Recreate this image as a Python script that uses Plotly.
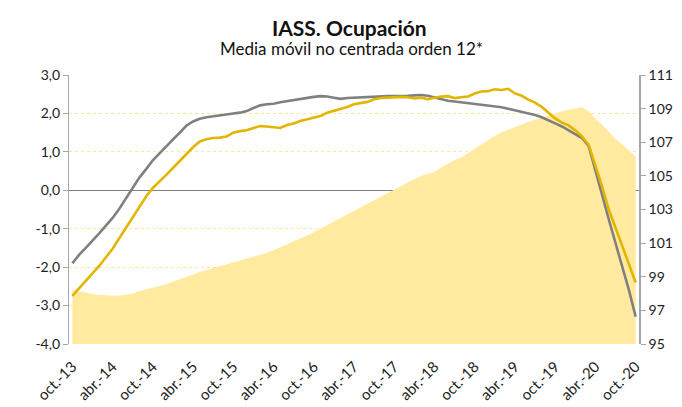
import plotly.graph_objects as go

# Monthly categories oct-13 .. oct-20 (85 points); labels every 6 months
tick_labels = ["oct.-13", "abr.-14", "oct.-14", "abr.-15", "oct.-15", "abr.-16", "oct.-16",
               "abr.-17", "oct.-17", "abr.-18", "oct.-18", "abr.-19", "oct.-19", "abr.-20", "oct.-20"]

# Gray line (left axis)
serie_gris = [-1.90, -1.68, -1.50, -1.32, -1.12, -0.92, -0.72, -0.48, -0.22, 0.06,
              0.33, 0.55, 0.78, 0.96, 1.14, 1.32, 1.48, 1.68, 1.79, 1.86,
              1.90, 1.93, 1.95, 1.97, 2.00, 2.02, 2.06, 2.14, 2.21, 2.24,
              2.25, 2.29, 2.32, 2.35, 2.38, 2.40, 2.43, 2.45, 2.44, 2.41,
              2.38, 2.40, 2.41, 2.42, 2.43, 2.44, 2.44, 2.45, 2.45, 2.45,
              2.46, 2.47, 2.48, 2.46, 2.42, 2.37, 2.33, 2.31, 2.29, 2.27,
              2.25, 2.23, 2.21, 2.19, 2.16, 2.12, 2.08, 2.05, 2.01, 1.96,
              1.90, 1.83, 1.74, 1.66, 1.56, 1.47, 1.36, 1.15, 0.55, -0.12,
              -0.76, -1.38, -1.95, -2.60, -3.29]

# Gold line (left axis)
serie_oro = [-2.75, -2.55, -2.34, -2.16, -1.97, -1.75, -1.52, -1.25, -0.98, -0.72,
             -0.45, -0.16, 0.06, 0.22, 0.40, 0.58, 0.76, 0.95, 1.12, 1.27,
             1.33, 1.36, 1.37, 1.40, 1.50, 1.54, 1.56, 1.62, 1.67, 1.66,
             1.64, 1.62, 1.70, 1.74, 1.80, 1.85, 1.88, 1.93, 2.02, 2.07,
             2.10, 2.17, 2.24, 2.28, 2.30, 2.37, 2.40, 2.41, 2.42, 2.43,
             2.42, 2.39, 2.41, 2.37, 2.41, 2.44, 2.45, 2.40, 2.42, 2.44,
             2.52, 2.57, 2.58, 2.63, 2.61, 2.64, 2.52, 2.46, 2.36, 2.28,
             2.17, 2.03, 1.87, 1.76, 1.69, 1.56, 1.40, 1.18, 0.66, 0.10,
             -0.50, -0.98, -1.45, -1.92, -2.40]

# Area (right axis)
serie_area = [98.21, 98.12, 98.04, 97.98, 97.93, 97.88, 97.87, 97.88, 97.92, 98.00,
              98.15, 98.25, 98.35, 98.45, 98.55, 98.70, 98.85, 99.00, 99.15, 99.28,
              99.40, 99.52, 99.64, 99.76, 99.87, 99.98, 100.08, 100.19, 100.30, 100.43,
              100.57, 100.74, 100.92, 101.10, 101.28, 101.46, 101.64, 101.84, 102.06, 102.28,
              102.50, 102.71, 102.92, 103.13, 103.34, 103.56, 103.78, 104.00, 104.21, 104.41,
              104.62, 104.82, 105.00, 105.12, 105.25, 105.50, 105.75, 105.95, 106.10, 106.35,
              106.62, 106.90, 107.15, 107.38, 107.58, 107.75, 107.92, 108.06, 108.20, 108.33,
              108.47, 108.60, 108.72, 108.85, 108.94, 109.02, 109.08, 108.85, 108.40, 108.05,
              107.60, 107.20, 106.88, 106.50, 106.14]

left_ticks = [3, 2, 1, 0, -1, -2, -3, -4]
left_ticktext = ["3,0", "2,0", "1,0", "0,0", "-1,0", "-2,0", "-3,0", "-4,0"]
right_ticks = [95, 97, 99, 101, 103, 105, 107, 109, 111]

idx = list(range(len(serie_gris)))
tick_pos = list(range(0, len(serie_gris), 6))

FONT = "Lato"
# the page body has an 8px default margin, so the figure is drawn 8px in from the top-left
OFF = 8
W, H = 682 - OFF, 407 - OFF
L, R, T, B = 61, 43, 67, 63

fig = go.Figure()
fig.add_trace(go.Scatter(x=idx, y=serie_area, yaxis="y", mode="lines",
                         line=dict(width=0, color="#FFEAA0"), fill="tozeroy",
                         fillcolor="#FFEAA0", showlegend=False, hoverinfo="skip"))
fig.add_trace(go.Scatter(x=idx, y=serie_gris, yaxis="y2", mode="lines",
                         line=dict(width=2.6, color="#808080"), showlegend=False))
fig.add_trace(go.Scatter(x=idx, y=serie_oro, yaxis="y2", mode="lines",
                         line=dict(width=2.6, color="#E2B600"), showlegend=False))

fig.update_layout(
    width=W, height=H,
    margin=dict(l=L, r=R, t=T, b=B, autoexpand=False),
    paper_bgcolor="white", plot_bgcolor="white",
    font=dict(family=FONT, size=13, color="#222222"),
    xaxis=dict(range=[-0.5, len(serie_gris) - 0.5], tickvals=tick_pos, ticktext=tick_labels,
               tickangle=-45, showgrid=False, zeroline=False, showline=False, ticks="",
               tickfont=dict(size=15), automargin=False, ticklabelstandoff=10),
    yaxis=dict(range=[95, 111], side="right", tickvals=right_ticks, showgrid=False,
               zeroline=False, showline=True, linecolor="#A6A6A6", linewidth=1.5,
               ticks="outside", ticklen=5, tickcolor="#A6A6A6", tickfont=dict(size=14),
               automargin=False),
    yaxis2=dict(range=[-4, 3], overlaying="y", side="left", tickvals=left_ticks,
                ticktext=left_ticktext, showgrid=True, gridcolor="#FFE699", griddash="dot",
                gridwidth=1, zeroline=True, zerolinecolor="#808080", zerolinewidth=1.3,
                showline=True, linecolor="#A6A6A6", linewidth=1.3, ticks="outside",
                ticklen=5, tickcolor="#A6A6A6", tickfont=dict(size=14), automargin=False),
)

pw = W - L - R
ph = H - T - B
def px_to_paper(px_x, px_y):
    # px in page coordinates
    fx, fy = px_x - OFF, px_y - OFF
    return (fx - L) / pw, ((H - fy) - B) / ph

tx, ty = px_to_paper(349, 27)
sx, sy = px_to_paper(351, 48)
fig.add_annotation(text="<b>IASS. Ocupación</b>", x=tx, y=ty, xref="paper", yref="paper",
                   xanchor="center", yanchor="middle", showarrow=False,
                   font=dict(size=21, color="#111111"))
fig.add_annotation(text="Media móvil no centrada orden 12*", x=sx, y=sy, xref="paper",
                   yref="paper", xanchor="center", yanchor="middle", showarrow=False,
                   font=dict(size=17, color="#111111"))

fig.write_html("out.html")
